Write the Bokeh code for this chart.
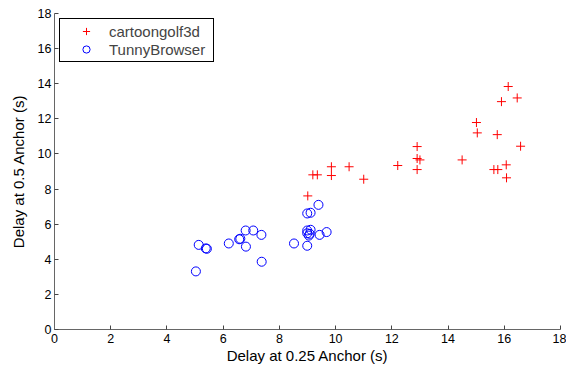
from bokeh.plotting import figure
from bokeh.models import Range1d, Legend, LegendItem, FixedTicker
from bokeh.embed import file_html
from bokeh.resources import INLINE

# cartoongolf3d: (delay at 0.25 anchor, delay at 0.5 anchor)
cg_x = [16.14, 16.46, 15.90, 15.01, 15.04, 15.75, 16.58, 12.90, 12.90, 13.00,
        14.50, 12.90, 15.63, 15.77, 16.07, 16.08, 12.21, 10.48, 9.85, 9.85,
        9.19, 9.35, 11.00, 9.01]
cg_y = [13.84, 13.19, 12.98, 11.79, 11.20, 11.10, 10.44, 10.42, 9.74, 9.66,
        9.66, 9.11, 9.11, 9.11, 9.38, 8.64, 9.34, 9.27, 9.27, 8.77,
        8.81, 8.81, 8.56, 7.61]

# TunnyBrowser
tb_x = [9.39, 8.99, 9.11, 8.99, 9.11, 8.99, 9.08, 9.05, 9.43, 9.68,
        8.52, 8.99, 7.37, 7.36, 7.07, 6.80, 6.81, 6.57, 6.61, 6.20,
        5.13, 5.38, 5.42, 5.03]
tb_y = [7.10, 6.61, 6.65, 5.64, 5.68, 5.48, 5.45, 5.35, 5.39, 5.55,
        4.90, 4.77, 3.86, 5.39, 5.64, 5.64, 4.72, 5.14, 5.17, 4.90,
        4.82, 4.62, 4.60, 3.31]

series_names = ["cartoongolf3d", "TunnyBrowser"]
tick_values = [0, 2, 4, 6, 8, 10, 12, 14, 16, 18]
x_label = "Delay at 0.25 Anchor (s)"
y_label = "Delay at 0.5 Anchor (s)"

FONT = "Liberation Sans"

p = figure(width=566, height=368, output_backend="svg", toolbar_location=None,
           x_range=Range1d(0, 18), y_range=Range1d(0, 18),
           min_border_left=54, min_border_right=6, min_border_top=13,
           min_border_bottom=39)
p.outline_line_color = None
p.grid.visible = False
p.background_fill_color = "white"
p.border_fill_color = "white"

for ax in (p.xaxis[0], p.yaxis[0]):
    ax.ticker = FixedTicker(ticks=tick_values)
    ax.major_tick_in = 4
    ax.major_tick_out = 0
    ax.minor_tick_line_color = None
    ax.axis_line_color = "#666666"
    ax.major_tick_line_color = "#444444"
    ax.major_label_text_font = FONT
    ax.major_label_text_font_size = "12.5px"
    ax.major_label_text_color = "black"
    ax.axis_label_text_font = FONT
    ax.axis_label_text_font_size = "15px"
    ax.axis_label_text_font_style = "normal"
    ax.axis_label_text_color = "black"

p.xaxis.axis_label = x_label
p.yaxis.axis_label = y_label
p.xaxis.major_label_standoff = 4
p.xaxis.axis_label_standoff = 1
p.yaxis.major_label_standoff = 3
p.yaxis.axis_label_standoff = 8

r1 = p.scatter(cg_x, cg_y, marker="cross", size=9, line_color="#ff0000",
               line_width=1)
r2 = p.scatter(tb_x, tb_y, marker="circle", size=9, fill_color=None,
               line_color="#0000ff", line_width=1)

legend = Legend(items=[LegendItem(label=series_names[0], renderers=[r1]),
                       LegendItem(label=series_names[1], renderers=[r2])],
                location="top_left")
legend.margin = 5
legend.padding = 3
legend.spacing = 0
legend.glyph_width = 46
legend.glyph_height = 18
legend.label_height = 18
legend.label_width = 101
legend.label_standoff = 0
legend.label_text_font = FONT
legend.label_text_font_size = "15px"
legend.border_line_color = "black"
legend.border_line_width = 1
legend.border_line_alpha = 1
legend.background_fill_color = "white"
legend.background_fill_alpha = 1
p.add_layout(legend)

open("out.html", "w").write(file_html(p, INLINE))
